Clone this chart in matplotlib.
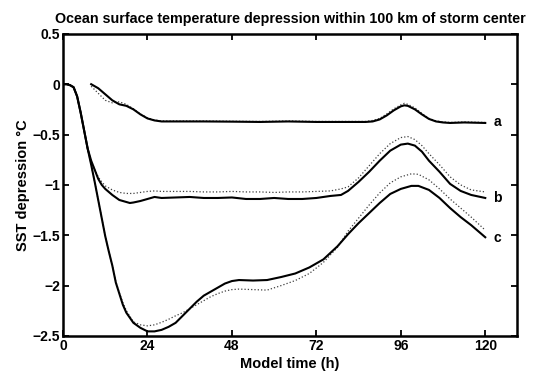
#!/usr/bin/env python3
"""SST depression within 100 km of storm center, curves a/b/c (solid vs dotted run)."""
import matplotlib
matplotlib.use("Agg")
import matplotlib.pyplot as plt
from matplotlib.ticker import FixedLocator, FuncFormatter

# curve a (starts later)
t_a = [8, 10, 12, 14, 16, 18, 20, 22, 24, 26, 28, 32, 40, 48, 56, 64, 72, 80,
       86, 88, 90, 92, 94, 96, 97, 98, 100, 102, 104, 106, 108, 110, 114, 120]
a_solid = [0, -0.04, -0.10, -0.16, -0.20, -0.215, -0.25, -0.30, -0.34, -0.36, -0.37,
           -0.37, -0.37, -0.372, -0.375, -0.37, -0.375, -0.375,
           -0.375, -0.37, -0.35, -0.31, -0.26, -0.22, -0.21, -0.215, -0.25, -0.30,
           -0.345, -0.37, -0.38, -0.385, -0.38, -0.385]
a_dot = [-0.02, -0.09, -0.16, -0.185, -0.175, -0.20, -0.245, -0.295, -0.335, -0.355,
         -0.365, -0.365, -0.365, -0.368, -0.37, -0.365, -0.37, -0.37,
         -0.37, -0.36, -0.34, -0.295, -0.245, -0.205, -0.19, -0.20, -0.235, -0.29,
         -0.34, -0.365, -0.375, -0.38, -0.375, -0.38]

# curve b
t_b = [0, 1, 2, 3, 4, 5, 6, 7, 8, 9, 10, 11, 12, 14, 16, 18, 19, 20, 22, 24, 26,
       28, 32, 36, 40, 44, 48, 52, 56, 60, 64, 68, 72, 76, 79, 81, 84, 87, 90, 93,
       96, 98, 100, 102, 104, 107, 110, 113, 116, 120]
b_solid = [0, 0, -0.01, -0.03, -0.12, -0.28, -0.46, -0.64, -0.76, -0.85, -0.94,
           -1.0, -1.04, -1.10, -1.15, -1.17, -1.18, -1.175, -1.16, -1.14, -1.12,
           -1.13, -1.125, -1.12, -1.13, -1.13, -1.125, -1.14, -1.14, -1.13, -1.14,
           -1.14, -1.13, -1.11, -1.10, -1.06, -0.97, -0.87, -0.76, -0.66,
           -0.60, -0.59, -0.61, -0.67, -0.76, -0.87, -0.99, -1.06, -1.10, -1.13]
b_dot = [0, 0, -0.01, -0.03, -0.12, -0.28, -0.46, -0.64, -0.76, -0.85, -0.92,
         -0.97, -1.01, -1.05, -1.075, -1.085, -1.085, -1.085, -1.075, -1.065, -1.06,
         -1.065, -1.065, -1.065, -1.07, -1.07, -1.065, -1.07, -1.07, -1.075, -1.07,
         -1.07, -1.065, -1.06, -1.04, -1.02, -0.93, -0.81, -0.69, -0.59,
         -0.53, -0.52, -0.55, -0.61, -0.69, -0.80, -0.92, -1.0, -1.05, -1.07]

# curve c
t_c = [0, 1, 2, 3, 4, 5, 6, 7, 8, 9, 10, 11, 12, 13, 14, 15, 16, 17, 18, 20, 22,
       24, 26, 28, 30, 32, 34, 36, 38, 40, 42, 44, 46, 48, 50, 54, 58, 62, 66, 70,
       74, 78, 81, 84, 87, 90, 93, 96, 99, 101, 104, 107, 110, 113, 116, 120]
c_solid = [0, 0, -0.01, -0.03, -0.12, -0.28, -0.46, -0.64, -0.80, -0.97, -1.15,
           -1.33, -1.51, -1.66, -1.80, -1.97, -2.08, -2.19, -2.27, -2.37, -2.42,
           -2.455, -2.455, -2.44, -2.41, -2.37, -2.30, -2.23, -2.16, -2.10, -2.06,
           -2.02, -1.98, -1.955, -1.945, -1.95, -1.945, -1.915, -1.88, -1.82,
           -1.74, -1.61, -1.49, -1.38, -1.28, -1.18, -1.09, -1.04, -1.01, -1.01,
           -1.05, -1.13, -1.23, -1.32, -1.40, -1.52]
c_dot = [0, 0, -0.01, -0.03, -0.12, -0.28, -0.46, -0.64, -0.80, -0.97, -1.15,
         -1.33, -1.51, -1.66, -1.80, -1.96, -2.07, -2.17, -2.25, -2.36, -2.39,
         -2.40, -2.39, -2.365, -2.335, -2.30, -2.27, -2.23, -2.19, -2.15, -2.11,
         -2.08, -2.055, -2.04, -2.035, -2.04, -2.045, -2.0, -1.95, -1.88,
         -1.77, -1.62, -1.46, -1.33, -1.20, -1.08, -0.98, -0.92, -0.89, -0.895,
         -0.95, -1.04, -1.14, -1.23, -1.32, -1.45]

labels = ["a", "b", "c"]
label_y = [-0.38, -1.13, -1.53]

xticks = [0, 24, 48, 72, 96, 120]
yticks = [0.5, 0, -0.5, -1, -1.5, -2, -2.5]


def fmt(v, pos):
    s = f"{v:g}"
    return s.replace("-", "\u2212")


def main():
    plt.rcParams["font.family"] = ["Liberation Sans", "DejaVu Sans"]
    plt.rcParams["font.weight"] = "bold"
    plt.rcParams["axes.labelweight"] = "bold"

    fig = plt.figure(figsize=(5.41, 3.72), dpi=100)
    ax = fig.add_axes([0.1165, 0.097, 0.839, 0.812])

    lw = 1.5
    ax.plot(t_a, a_dot, ls=":", color="0.25", lw=0.9)
    ax.plot(t_b, b_dot, ls=":", color="0.25", lw=0.9)
    ax.plot(t_c, c_dot, ls=":", color="0.25", lw=0.9)
    ax.plot(t_a, a_solid, color="black", lw=lw)
    ax.plot(t_b, b_solid, color="black", lw=lw)
    ax.plot(t_c, c_solid, color="black", lw=lw)

    for lab, y in zip(labels, label_y):
        ax.text(122.3, y, lab, fontsize=10, fontweight="bold", va="center", ha="left")

    ax.set_xlim(0, 129)
    ax.set_ylim(-2.5, 0.5)
    ax.xaxis.set_major_locator(FixedLocator(xticks))
    ax.yaxis.set_major_locator(FixedLocator(yticks))
    ax.yaxis.set_major_formatter(FuncFormatter(fmt))
    ax.xaxis.set_major_formatter(FuncFormatter(fmt))
    ax.tick_params(direction="in", top=True, right=True, length=4, width=1.3,
                   labelsize=10, pad=2)
    for lbl in ax.get_xticklabels() + ax.get_yticklabels():
        lbl.set_fontweight("bold")
    for sp in ax.spines.values():
        sp.set_linewidth(1.8)

    ax.set_xlabel("Model time (h)", fontsize=10.5, fontweight="bold", labelpad=3)
    ax.set_ylabel("SST depression \u00b0C", fontsize=10.5, fontweight="bold", labelpad=2)
    ax.set_title("Ocean surface temperature depression within 100 km of storm center",
                 fontsize=10.3, fontweight="bold", pad=8)

    fig.savefig("out.png", dpi=100)


if __name__ == "__main__":
    main()
